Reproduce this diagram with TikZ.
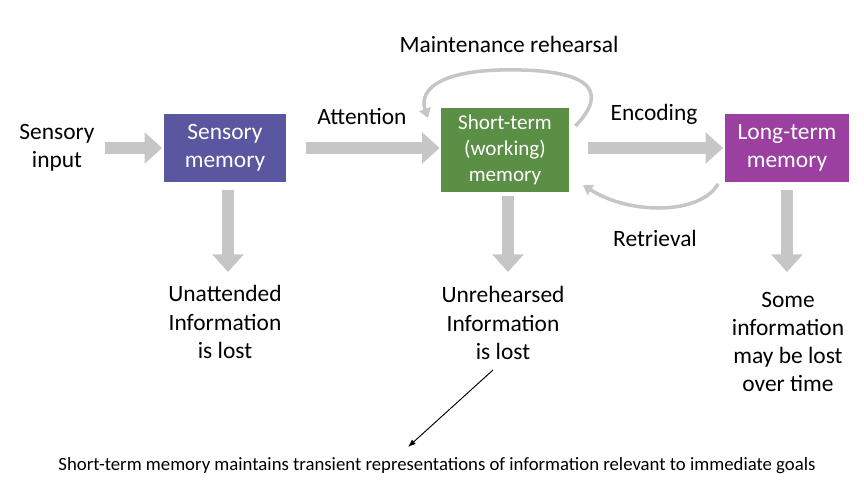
\documentclass[tikz,border=0pt]{standalone}
\usepackage{fontspec}
\setmainfont{Carlito}
\usetikzlibrary{arrows.meta}
\definecolor{sensoryc}{HTML}{5B56A0}
\definecolor{shortc}{HTML}{5A8F45}
\definecolor{longc}{HTML}{9B3FA0}
\tikzset{
  box/.style={draw=white, line width=1.5pt, text=white, align=center, font=\fontsize{20}{24}\selectfont, inner sep=0pt},
  fat/.style={draw=gray!45, line width=11pt, -{Triangle[length=15pt,width=26pt]}},
  loop/.style={draw=gray!45, line width=3pt, -{Triangle[length=8pt,width=10pt]}},
  lbl/.style={align=center, font=\fontsize{20}{24}\selectfont}
}
\begin{document}
\begin{tikzpicture}[x=0.03cm, y=-0.03cm]
        \useasboundingbox (0,0) rectangle (864,503);

        \node[box, fill=sensoryc, minimum width=124*0.03cm, minimum height=70*0.03cm] (sm) at (225,148) {Sensory\\memory};
        \node[box, fill=shortc, minimum width=129*0.03cm, minimum height=86*0.03cm, font=\fontsize{18}{22}\selectfont] (stm) at (505,150) {Short-term\\(working)\\memory};
        \node[box, fill=longc, minimum width=126*0.03cm, minimum height=70*0.03cm] (ltm) at (787,148) {Long-term\\memory};

        \node[lbl] (in) at (57,148) {Sensory\\input};
        \node[lbl] (att) at (362,116) {Attention};
        \node[lbl] (mr) at (509,44) {Maintenance rehearsal};
        \node[lbl] (enc) at (654,114) {Encoding};
        \node[lbl] (ret) at (655,238) {Retrieval};
        \node[lbl] (ul) at (225,322) {Unattended\\Information\\is lost};
        \node[lbl] (rl) at (503,323) {Unrehearsed\\Information\\is lost};
        \node[lbl] (ll) at (788,342) {Some\\information\\may be lost\\over time};
        \node[font=\fontsize{16}{19}\selectfont] (cap) at (437,466) {Short-term memory maintains transient representations of information relevant to immediate goals};

        \coordinate (d1) at (228,272);
        \coordinate (d2) at (508,272);
        \coordinate (d3) at (787,272);

        % thick grey arrows
        \draw[fat] (in.east) ++(6,0) -- (sm.west);
        \draw[fat] (sm.east) ++(18,0) -- (stm.west |- sm.east);
        \draw[fat] (stm.east |- ltm.west) ++(18,0) -- (ltm.west);
        \draw[fat] (sm.south) ++(3,6) -- (d1);
        \draw[fat] (stm.south) ++(3,2) -- (d2);
        \draw[fat] (ltm.south) ++(0,6) -- (d3);

        % loops
        \draw[loop] (stm.north east) ++(5,20) .. controls (610,90) and (590,68) .. (500,70)
              .. controls (430,72) and (420,95) .. (428,118);
        \draw[loop] (ltm.south west) ++(-5,0) .. controls (700,215) and (630,215) .. (583,185);

        \draw[-{Latex}, thick] (493,370) -- (408,447);
\end{tikzpicture}
\end{document}
